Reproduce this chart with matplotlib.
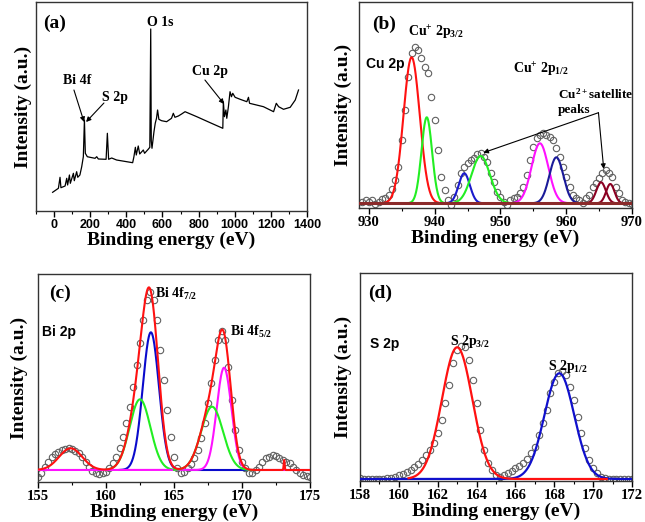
import numpy as np
import matplotlib
matplotlib.use("Agg")
import matplotlib.pyplot as plt

plt.rcParams["font.family"] = ["Liberation Serif", "DejaVu Serif"]
plt.rcParams["font.weight"] = "bold"
plt.rcParams["mathtext.fontset"] = "custom"
plt.rcParams["mathtext.rm"] = "Liberation Serif:bold"
plt.rcParams["mathtext.it"] = "Liberation Serif:bold"
plt.rcParams["mathtext.bf"] = "Liberation Serif:bold"
plt.rcParams["mathtext.default"] = "rm"

# ---- (a) survey spectrum: binding energy (eV) vs intensity (a.u.)
survey_e = [-8, 24, 33, 38, 61, 70, 75, 85, 90, 107, 112, 125, 131, 143, 153, 162,
            168, 173, 184, 199, 227, 236, 245, 288, 295, 302, 319, 346, 402, 435,
            442, 450, 455, 466, 474, 494, 501, 521, 530, 535, 538, 542, 553, 560,
            567, 573, 580, 595, 623, 650, 660, 669, 688, 706, 725, 790, 864, 934,
            937, 943, 951, 956, 965, 974, 982, 989, 1002, 1030, 1067, 1076, 1082,
            1159, 1215, 1230, 1243, 1270, 1307, 1335, 1353]
survey_i = [18.7, 22.7, 33.7, 23.3, 25, 32.7, 26, 36, 27.7, 37.7, 30.3, 39.3, 33.7,
            36, 44.3, 54.3, 91, 57.7, 54.3, 53.7, 52.7, 54.3, 52, 51.7, 77.7, 51.7,
            53, 51, 49.3, 48.3, 54.3, 63.7, 56, 65, 57, 61, 57.7, 61.7, 63.7, 182,
            70, 62.7, 79.3, 87.7, 92.7, 101, 91.7, 90.3, 89.3, 92.7, 97.7, 93.7, 95,
            97, 99.3, 94.3, 88.3, 82.7, 109.3, 94.3, 101, 92.7, 104.3, 119.3, 114.3,
            117.7, 113.7, 111.7, 109.3, 113.7, 107.7, 104.3, 99.3, 107.7, 104.3,
            101.7, 103.7, 111, 121]

# ---- (b) Cu 2p
cu_e = np.arange(929.0, 970.01, 0.5)
cu_i = [6.3, 8, 5.7, 8, 4, 6, 8.7, 9.7, 13, 18.7, 28, 41.3, 68, 98, 131, 154.7, 161.3,
        158, 149.7, 141.3, 134.7, 111, 88, 58, 31.3, 18, 8, 3, 11.3, 23, 34.7, 41.3,
        44.7, 48, 49.7, 54, 55.3, 51.3, 46.3, 34.7, 26.3, 16.3, 11.3, 6.3, 3, 8, 9.7,
        11.3, 14.7, 21.3, 33, 48, 61.3, 69.7, 73, 74.7, 73, 71.3, 68, 59.7, 51.3,
        41.3, 31.3, 21.3, 13, 9.7, 8, 4.7, 9.7, 13, 21.3, 24.7, 29.7, 34.7, 38,
        34.7, 31.3, 21.3, 14.7, 8, 6.3, 4.7, 4]
cu_base = 4.7
cu_center = [936.5, 938.8, 944.5, 947.0, 956.0, 958.5, 965.3, 966.7]
cu_height = [146, 86, 30, 47.3, 60, 46, 21, 19.3]
cu_fwhm = [2.9, 1.9, 2.0, 3.3, 3.0, 2.5, 1.7, 1.5]
cu_color = ["#ff1111", "#22ee22", "#1a1acc", "#22ee22", "#ff11ff", "#1a1a99",
            "#8b0022", "#8b0022"]

# ---- (c) Bi 4f
bi_e = np.arange(155.0, 175.01, 0.25)
bi_i = [5.3, 8.7, 15.3, 20.3, 25.3, 27.7, 30.3, 32, 32.7, 33.7, 32.7, 31, 28.7, 25.3,
        20.3, 15.3, 11.3, 8.7, 8, 8.7, 10.3, 13.7, 18.7, 25.3, 33.7, 45.3, 58.7,
        75.3, 95.3, 117, 138.7, 162, 182, 190.3, 182, 162, 132, 102, 72, 45.3, 25.3,
        13.7, 8.7, 10.3, 13.7, 18, 23.7, 32, 43.7, 58.7, 78.7, 98.7, 122, 142,
        151.3, 142, 115.3, 82, 52, 32, 20.3, 13.7, 9.3, 8.7, 12, 15.3, 20.3, 23.7,
        25.3, 27, 26, 23.7, 22, 20.3, 18.7, 15.3, 12, 9.3, 7, 6, 5.3]
bi_base = 12
bi_center = [163.3, 162.5, 168.68, 167.8]
bi_height = [137.7, 70.7, 102.3, 63.3]
bi_fwhm = [1.4, 1.8, 1.27, 1.9]
bi_color = ["#0a0acc", "#22ee22", "#ff11ff", "#22ee22"]
bi_extra_center = [157.4, 173.1]     # small features only in the envelope
bi_extra_height = [21.7, 10]
bi_extra_fwhm = [2.0, 0.08]

# ---- (d) S 2p
s_e = np.arange(158.0, 172.01, 0.2)
s_i = [2.7, 2, 1.7, 2, 2, 2.3, 2.3, 2.7, 3.3, 4.3, 5.7, 7, 8.7, 11, 13.7, 17, 21, 26,
       31, 37.7, 47.7, 61, 77.7, 96, 117.7, 131, 135, 133.7, 121, 101, 77.7, 51, 31,
       17.7, 11, 6, 3.7, 6, 8.3, 10.3, 12.7, 15, 18.3, 21.7, 27.7, 34.3, 46, 57.7,
       71, 87.7, 99.3, 107.7, 110.3, 106, 94.3, 81, 64.3, 47.7, 32.7, 21, 12.7,
       7.7, 4.3, 2.7, 2, 2, 2.3, 2.3, 2.3, 2, 2]
s_base = 2
s_center = [168.26, 163.0]
s_height = [105.7, 131.7]
s_fwhm = [1.8, 1.84]
s_color = ["#1010cc", "#ff1111"]


def gauss(x, c, h, w):
    return h * np.exp(-4 * np.log(2) * (x - c) ** 2 / w ** 2)


def style(ax, sans_ticks=False):
    ax.set_yticks([])
    for sp in ax.spines.values():
        sp.set_linewidth(1.0)
        sp.set_color("#333333")
    ax.tick_params(axis="x", which="major", length=4, width=1, pad=2, direction="out")
    ax.tick_params(axis="x", which="minor", length=2, width=0.8, direction="out")
    for lab in ax.get_xticklabels():
        lab.set_fontweight("bold")
        if sans_ticks:
            lab.set_family("Liberation Sans")
            lab.set_fontsize(9)
        else:
            lab.set_fontsize(10.5)
    ax.set_xlabel("Binding energy (eV)", fontsize=14, fontweight="bold", labelpad=0)


def dots(ax, x, y):
    ax.plot(x, y, "o", ms=4.6, mfc="none", mec="#606060", mew=0.8, zorder=2)


fig = plt.figure(figsize=(6.45, 5.22), dpi=100)
W, H = 645.0, 522.0


def add_ax(l, r, t, b):
    return fig.add_axes([l / W, 1 - b / H, (r - l) / W, (b - t) / H])


arrow = dict(arrowstyle="-|>", lw=0.8, color="k", mutation_scale=7, shrinkA=0, shrinkB=0)

# (a)
ax = add_ax(36, 307, 2, 211)
ax.plot(survey_e, survey_i, color="k", lw=0.9)
ax.set_xlim(-100, 1400)
ax.set_ylim(0, 209)
ax.set_xticks(np.arange(0, 1401, 200))
ax.set_xticks(np.arange(-100, 1401, 100), minor=True)
style(ax, sans_ticks=True)
ax.set_ylabel("Intensity (a.u.)", fontsize=14, fontweight="bold", labelpad=3)
ax.text(0.07, 0.9, "(a)", transform=ax.transAxes, fontsize=14, ha="center", va="center")
ax.text(586, 189, "O 1s", fontsize=10, ha="center", va="center")
ax.text(127, 131, "Bi 4f", fontsize=10, ha="center", va="center")
ax.text(337, 114, "S 2p", fontsize=10, ha="center", va="center")
ax.text(863, 139, "Cu 2p", fontsize=10, ha="center", va="center")
ax.annotate("", xy=(166, 89), xytext=(110, 121), arrowprops=arrow)
ax.annotate("", xy=(177, 89), xytext=(276, 108), arrowprops=arrow)
ax.annotate("", xy=(941, 107), xytext=(835, 131), arrowprops=arrow)

# (b)
ax = add_ax(359, 632, 2, 208)
dots(ax, cu_e, cu_i)
for c, h, w, col in zip(cu_center, cu_height, cu_fwhm, cu_color):
    xx = np.linspace(c - 2.2 * w, c + 2.2 * w, 200)
    ax.plot(xx, cu_base + gauss(xx, c, h, w), color=col, lw=1.5, zorder=3)
ax.axhline(cu_base, color="#8b2a2a", lw=2.2, zorder=4)
ax.set_xlim(928.5, 970)
ax.set_ylim(0, 206)
ax.set_xticks(np.arange(930, 971, 10))
ax.set_xticks(np.arange(930, 971, 5), minor=True)
style(ax)
ax.set_ylabel("Intensity (a.u.)", fontsize=14, fontweight="bold", labelpad=5)
ax.text(0.09, 0.89, "(b)", transform=ax.transAxes, fontsize=14, ha="center", va="center")
ax.text(0.026, 0.7, "Cu 2p", transform=ax.transAxes, fontsize=10, family="Liberation Sans",
        ha="left", va="center")
ax.text(0.18, 0.85, r"Cu$^{+}$ 2p$_{3/2}$", transform=ax.transAxes, fontsize=10,
        ha="left", va="center")
ax.text(0.564, 0.67, r"Cu$^{+}$ 2p$_{1/2}$", transform=ax.transAxes, fontsize=10,
        ha="left", va="center")
ax.text(0.729, 0.553, r"Cu$^{2+}$satellite", transform=ax.transAxes, fontsize=9.5,
        ha="left", va="center")
ax.text(0.729, 0.476, "peaks", transform=ax.transAxes, fontsize=9.5, ha="left", va="center")
ax.annotate("", xy=(947.4, 55.3), xytext=(964.9, 95.3), arrowprops=arrow, zorder=6)
ax.annotate("", xy=(965.7, 39), xytext=(964.9, 95.3), arrowprops=arrow, zorder=6)

# (c)
ax = add_ax(38, 310, 274, 482)
dots(ax, bi_e, bi_i)
xx = np.linspace(155, 175, 2000)
ranges = [(161.0, 170.5), (160.0, 166.0), (155, 175), (165.0, 171.0)]
for (lo, hi), c, h, w, col in zip(ranges, bi_center, bi_height, bi_fwhm, bi_color):
    x2 = np.linspace(lo, hi, 600)
    ax.plot(x2, bi_base + gauss(x2, c, h, w), color=col, lw=1.5, zorder=3)
env = np.full_like(xx, bi_base)
for c, h, w in zip(bi_center + bi_extra_center, bi_height + bi_extra_height,
                   bi_fwhm + bi_extra_fwhm):
    env += gauss(xx, c, h, w)
ax.plot(xx, env, color="#ff1111", lw=1.5, zorder=4)
ax.set_xlim(155, 175)
ax.set_ylim(0, 208)
ax.set_xticks(np.arange(155, 176, 5))
ax.set_xticks(np.arange(155, 176, 2.5), minor=True)
style(ax)
ax.set_ylabel("Intensity (a.u.)", fontsize=14, fontweight="bold", labelpad=7)
ax.text(0.08, 0.905, "(c)", transform=ax.transAxes, fontsize=14, ha="center", va="center")
ax.text(0.015, 0.72, "Bi 2p", transform=ax.transAxes, fontsize=10, family="Liberation Sans",
        ha="left", va="center")
ax.text(0.43, 0.905, r"Bi 4f$_{7/2}$", transform=ax.transAxes, fontsize=10,
        ha="left", va="center")
ax.text(0.705, 0.72, r"Bi 4f$_{5/2}$", transform=ax.transAxes, fontsize=10,
        ha="left", va="center")

# (d)
ax = add_ax(360, 632, 273, 481)
dots(ax, s_e, s_i)
s_ranges = [(158.0, 172.0), (160.5, 170.7)]
for (lo, hi), c, h, w, col in zip(s_ranges, s_center, s_height, s_fwhm, s_color):
    x2 = np.linspace(lo, hi, 600)
    ax.plot(x2, s_base + gauss(x2, c, h, w), color=col, lw=1.6, zorder=3)
ax.set_xlim(158, 172)
ax.set_ylim(0, 208)
ax.set_xticks(np.arange(158, 173, 2))
ax.set_xticks(np.arange(158, 173, 1), minor=True)
style(ax)
ax.set_ylabel("Intensity (a.u.)", fontsize=14, fontweight="bold", labelpad=6)
ax.text(0.075, 0.9, "(d)", transform=ax.transAxes, fontsize=14, ha="center", va="center")
ax.text(0.035, 0.66, "S 2p", transform=ax.transAxes, fontsize=10, family="Liberation Sans",
        ha="left", va="center")
ax.text(0.33, 0.67, r"S 2p$_{3/2}$", transform=ax.transAxes, fontsize=10,
        ha="left", va="center")
ax.text(0.69, 0.55, r"S 2p$_{1/2}$", transform=ax.transAxes, fontsize=10,
        ha="left", va="center")

fig.savefig("out.png", dpi=100)
